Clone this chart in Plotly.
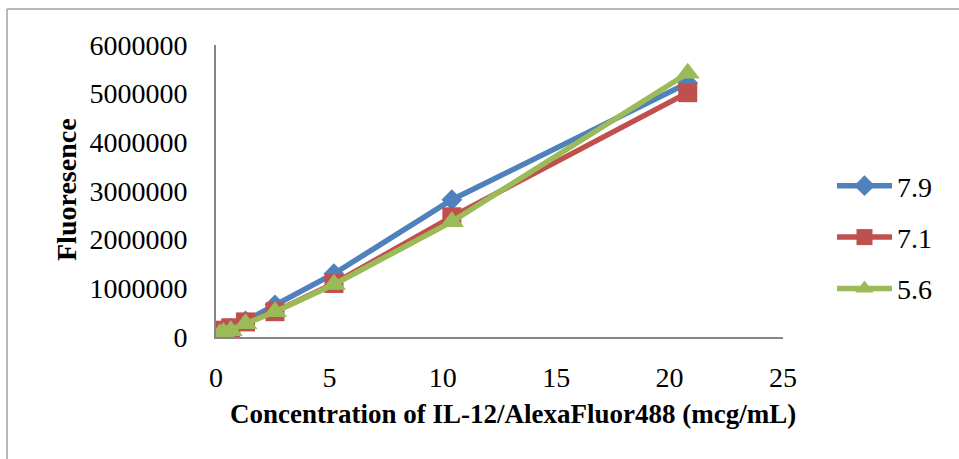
import plotly.graph_objects as go

conc = [0.1625, 0.325, 0.65, 1.3, 2.6, 5.2, 10.4, 20.8]
series_names = ["7.9", "7.1", "5.6"]
fl_79 = [60000, 110000, 180000, 330000, 660000, 1300000, 2820000, 5220000]
fl_71 = [100000, 140000, 190000, 310000, 520000, 1100000, 2470000, 5020000]
fl_56 = [60000, 90000, 130000, 270000, 520000, 1080000, 2370000, 5420000]
x_ticks = [0, 5, 10, 15, 20, 25]
y_ticks = [0, 1000000, 2000000, 3000000, 4000000, 5000000, 6000000]

colors = ["#4F81BD", "#C0504D", "#9BBB59"]
symbols = ["diamond", "square", "triangle-up"]
sizes = [16, 19, 21]

fig = go.Figure()
for i, (name, ys) in enumerate(zip(series_names, [fl_79, fl_71, fl_56])):
    fig.add_trace(go.Scatter(
        x=conc, y=ys, name=name, mode="lines+markers",
        line=dict(color=colors[i], width=5.5),
        marker=dict(symbol=symbols[i], size=sizes[i], color=colors[i]),
        legendgroup=name,
    ))

L, R, T, B = 216, 176, 45, 122
W, H = 959, 459
pw, ph = W - L - R, H - T - B

def px(x):
    return (x - L) / pw

def py(y):
    return (H - B - y) / ph

serif = "Liberation Serif"
fig.update_layout(
    width=W, height=H,
    margin=dict(l=L, r=R, t=T, b=B, pad=0),
    paper_bgcolor="white", plot_bgcolor="white",
    font=dict(family=serif, size=28, color="black"),
    xaxis=dict(range=[0, 25], tickvals=x_ticks, ticktext=[str(v) for v in x_ticks],
               showgrid=False, zeroline=False, showline=True, linecolor="#868686",
               linewidth=2, ticks="", ticklabelstandoff=14,
               tickfont=dict(family=serif, size=28)),
    yaxis=dict(range=[0, 6000000], tickvals=y_ticks, ticktext=[str(v) for v in y_ticks],
               showgrid=False, zeroline=False, showline=True, linecolor="#868686",
               linewidth=2, ticks="", ticklabelstandoff=21,
               tickfont=dict(family=serif, size=28)),
    showlegend=True,
    legend=dict(x=px(832), y=py(161), xanchor="left", yanchor="top",
                traceorder="grouped", tracegroupgap=12, itemwidth=55,
                font=dict(family=serif, size=28), bgcolor="rgba(0,0,0,0)"),
    annotations=[
        dict(text="<b>Concentration of IL-12/AlexaFluor488 (mcg/mL)</b>",
             xref="paper", yref="paper", x=px(513), y=py(414),
             xanchor="center", yanchor="middle", showarrow=False,
             font=dict(family=serif, size=27, color="black")),
        dict(text="<b>Fluoresence</b>", textangle=-90,
             xref="paper", yref="paper", x=px(66), y=py(190),
             xanchor="center", yanchor="middle", showarrow=False,
             font=dict(family=serif, size=28, color="black")),
    ],
    shapes=[
        dict(type="line", xref="paper", yref="paper", x0=px(7), x1=px(975),
             y0=py(9), y1=py(9), line=dict(color="#A0A0A0", width=1.5)),
        dict(type="line", xref="paper", yref="paper", x0=px(7), x1=px(7),
             y0=py(9), y1=py(475), line=dict(color="#A0A0A0", width=1.5)),
    ],
)

fig.write_html("out.html")
